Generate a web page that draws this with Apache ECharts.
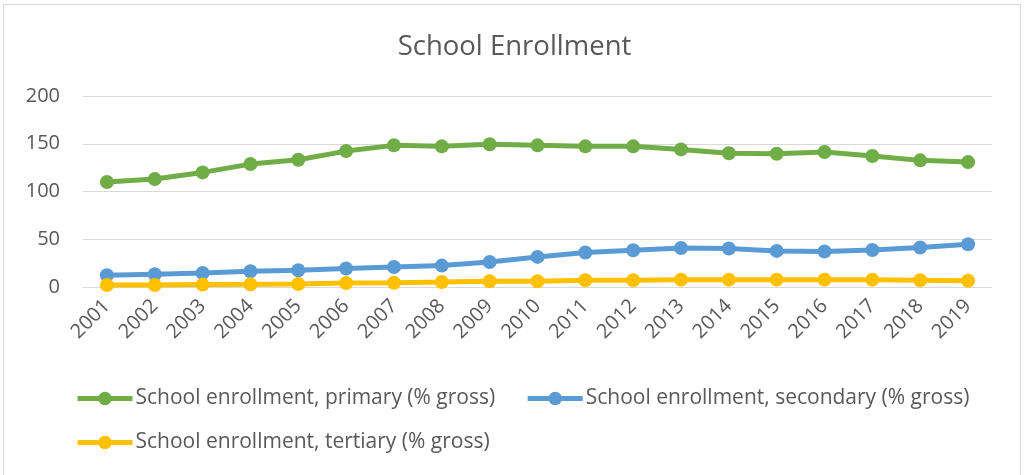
<!DOCTYPE html>
<html>
<head>
<meta charset="utf-8">
<script src="https://cdn.jsdelivr.net/npm/echarts@6/dist/echarts.min.js"></script>
<style>
  html, body { margin: 0; padding: 0; background: #fff; }
  #chart { width: 1029px; height: 475px; }
</style>
</head>
<body>
<div id="chart"></div>
<script>
// years on the x axis
var years = ['2001', '2002', '2003', '2004', '2005', '2006', '2007', '2008', '2009', '2010',
             '2011', '2012', '2013', '2014', '2015', '2016', '2017', '2018', '2019'];

// values (% gross)
var primary   = [110, 113, 120, 128.7, 133.2, 142.3, 148.3, 147.3, 149.4, 148.3,
                 147.3, 147.3, 144.1, 140, 139.5, 141.3, 137.1, 132.6, 130.8];
var secondary = [12.3, 13.3, 14.7, 16.5, 17.5, 19.3, 21, 22.4, 26.2, 31.5,
                 36.1, 38.5, 40.9, 40.3, 37.8, 37.1, 38.8, 41.3, 44.8];
var tertiary  = [2.1, 2.1, 2.5, 2.8, 3.2, 4.2, 4.5, 5.2, 6, 6,
                 7, 7, 7.7, 7.7, 7.7, 7.7, 7.7, 7, 6.6];

var names = ['School enrollment, primary (% gross)',
             'School enrollment, secondary (% gross)',
             'School enrollment, tertiary (% gross)'];

var font = '"Open Sans", sans-serif';
var textColor = '#595959';

function lineSeries(name, data, color) {
    return {
        name: name,
        type: 'line',
        data: data,
        symbol: 'circle',
        symbolSize: 14,
        lineStyle: { width: 5, color: color },
        itemStyle: { color: color },
        emphasis: { disabled: true }
    };
}

function legendRow(items, top) {
    return {
        data: items,
        left: 75,
        top: top,
        padding: 0,
        itemWidth: 55,
        itemHeight: 17,
        itemGap: 30,
        lineStyle: { width: 5 },
        textStyle: { fontFamily: font, fontSize: 21, color: textColor, padding: [0, 0, 0, -2] }
    };
}

var chart = echarts.init(document.getElementById('chart'));
chart.setOption({
    animation: false,
    color: ['#70AD47', '#5B9BD5', '#FFC000'],
    textStyle: { fontFamily: font, color: textColor },
    title: {
        text: 'School Enrollment',
        left: 'center',
        top: 28,
        textStyle: { fontFamily: font, fontSize: 27.5, fontWeight: 'normal', color: textColor }
    },
    legend: [legendRow([names[0], names[1]], 388), legendRow([names[2]], 432)],
    grid: { left: 83, right: 37, top: 96, bottom: 188 },
    xAxis: {
        type: 'category',
        data: years,
        axisLine: { lineStyle: { color: '#D9D9D9', width: 1 } },
        axisTick: { show: false },
        axisLabel: { rotate: 45, fontSize: 20, color: textColor, fontFamily: font, margin: 16 }
    },
    yAxis: {
        type: 'value',
        min: 0,
        max: 200,
        interval: 50,
        axisLine: { show: false },
        axisTick: { show: false },
        splitLine: { lineStyle: { color: '#D9D9D9', width: 1 } },
        axisLabel: { fontSize: 20, color: textColor, fontFamily: font, margin: 23 }
    },
    graphic: [{
        type: 'rect',
        shape: { x: 3.5, y: 4.5, width: 1017, height: 480 },
        style: { fill: null, stroke: '#D9D9D9', lineWidth: 1 },
        silent: true
    }],
    series: [
        lineSeries(names[0], primary, '#70AD47'),
        lineSeries(names[1], secondary, '#5B9BD5'),
        lineSeries(names[2], tertiary, '#FFC000')
    ]
});
</script>
</body>
</html>
